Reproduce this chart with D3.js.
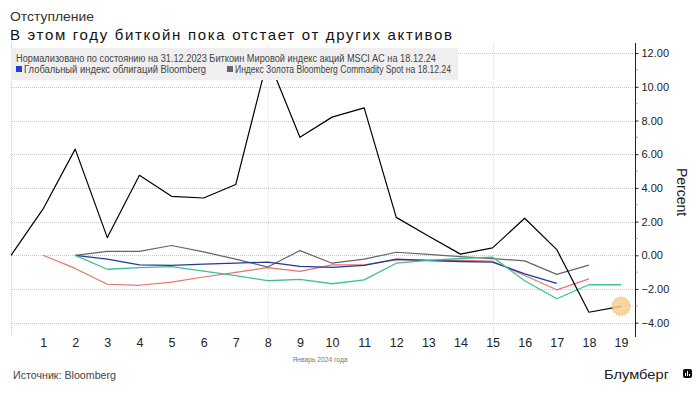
<!DOCTYPE html>
<html>
<head>
<meta charset="utf-8">
<script src="https://cdn.jsdelivr.net/npm/d3@7"></script>
<style>
  body { margin: 0; background: #fff; }
  text { font-family: "Liberation Sans", Arial, sans-serif; }
</style>
</head>
<body>
<script>
// January 2024 trading days, normalised to 31.12.2023 (percent)
var days = d3.range(0, 20),
	dayTicks = d3.range(1, 20),
	yTicks = [-4, -2, 0, 2, 4, 6, 8, 10, 12],
	yMinorTicks = [-3, -1, 1, 3, 5, 7, 9, 11],
	bitcoin = [0, 2.75, 6.3, 1.05, 4.75, 3.5, 3.4, 4.2, 11.7, 7.0, 8.2, 8.75, 2.25, 1.15, 0.07, 0.44, 2.2, 0.34, -3.38, -3.03],
	msciStart = 1,
	msciWorld = [0, -0.78, -1.72, -1.78, -1.59, -1.29, -1.01, -0.73, -0.95, -0.57, -0.57, -0.27, -0.3, -0.3, -0.35, -1.2, -2.05, -1.4],
	bondsStart = 2,
	bondsGlobal = [0, -0.23, -0.57, -0.6, -0.52, -0.47, -0.4, -0.66, -0.72, -0.6, -0.23, -0.31, -0.37, -0.4, -1.1, -1.66],
	goldStart = 2,
	goldIndex = [0, 0.23, 0.23, 0.58, 0.2, -0.23, -0.7, 0.28, -0.47, -0.23, 0.18, 0.05, -0.08, -0.2, -0.33, -1.13, -0.58],
	commodStart = 2,
	commoditySpot = [0, -0.83, -0.73, -0.67, -0.94, -1.21, -1.51, -1.43, -1.69, -1.46, -0.47, -0.3, -0.19, -0.11, -1.51, -2.58, -1.75, -1.75],
	weekLines = [8, 15],
	highlightDay = 19;

var width = 699,
	height = 398,
	axisX = 635,
	xScale = d3.scaleLinear().domain([0, 19]).range([11, 621]),
	yScale = d3.scaleLinear().domain([-4.85, 12.6]).range([337, 43]);

var svg = d3.select("body").append("svg")
	.attr("width", width)
	.attr("height", height);

// titles
svg.append("text")
	.attr("x", 10).attr("y", 21)
	.attr("font-size", 13).attr("fill", "#333")
	.attr("textLength", 84).attr("lengthAdjust", "spacingAndGlyphs")
	.text("Отступление");
svg.append("text")
	.attr("x", 10).attr("y", 40)
	.attr("font-size", 15).attr("fill", "#111")
	.attr("textLength", 442).attr("lengthAdjust", "spacing")
	.text("В этом году биткойн пока отстает от других активов");

// grid
var grid = svg.append("g");
grid.selectAll("line.h")
	.data(yTicks)
	.enter().append("line")
	.attr("x1", 12).attr("x2", axisX)
	.attr("y1", function(d) { return Math.round(yScale(d)) + 0.5; })
	.attr("y2", function(d) { return Math.round(yScale(d)) + 0.5; })
	.attr("stroke", "#c8c8c8").attr("stroke-dasharray", "1,1");
grid.selectAll("line.v")
	.data([0].concat(weekLines))
	.enter().append("line")
	.attr("x1", function(d) { return Math.round(xScale(d)) + 0.5; })
	.attr("x2", function(d) { return Math.round(xScale(d)) + 0.5; })
	.attr("y1", 43).attr("y2", 337)
	.attr("stroke", function(d) { return d == 0 ? "#c8c8c8" : "#e2e2e2"; })
	.attr("stroke-dasharray", "1,1");

// lines
function drawSeries(values, start, color, w) {
	var line = d3.line()
		.x(function(d, i) { return xScale(start + i); })
		.y(function(d) { return yScale(d); });
	svg.append("path")
		.datum(values)
		.attr("d", line)
		.attr("fill", "none")
		.attr("stroke", color)
		.attr("stroke-width", w)
		.attr("stroke-linejoin", "round");
}
drawSeries(msciWorld, msciStart, "#e5746c", 1.2);
drawSeries(goldIndex, goldStart, "#666666", 1.2);
drawSeries(bondsGlobal, bondsStart, "#1f3a9e", 1.3);
drawSeries(commoditySpot, commodStart, "#3dbf9c", 1.3);
drawSeries(bitcoin, 0, "#000000", 1.2);

// legend box (sits over the plot)
svg.append("rect")
	.attr("x", 11).attr("y", 48)
	.attr("width", 447).attr("height", 32)
	.attr("fill", "#efefef");
svg.append("text")
	.attr("x", 16).attr("y", 62)
	.attr("font-size", 10).attr("fill", "#444")
	.attr("textLength", 420).attr("lengthAdjust", "spacingAndGlyphs")
	.text("Нормализовано по состоянию на 31.12.2023 Биткоин Мировой индекс акций MSCI AC на 18.12.24");
svg.append("rect")
	.attr("x", 16).attr("y", 66).attr("width", 6).attr("height", 6)
	.attr("fill", "#1c3ee0");
svg.append("text")
	.attr("x", 24).attr("y", 73)
	.attr("font-size", 10).attr("fill", "#444")
	.attr("textLength", 182).attr("lengthAdjust", "spacingAndGlyphs")
	.text("Глобальный индекс облигаций Bloomberg");
svg.append("rect")
	.attr("x", 227).attr("y", 66).attr("width", 6).attr("height", 6)
	.attr("fill", "#666");
svg.append("text")
	.attr("x", 235).attr("y", 73)
	.attr("font-size", 10).attr("fill", "#444")
	.attr("textLength", 216).attr("lengthAdjust", "spacingAndGlyphs")
	.text("Индекс Золота Bloomberg Commadity Spot на 18.12.24");

// highlight on last bitcoin point
svg.append("circle")
	.attr("cx", xScale(highlightDay))
	.attr("cy", yScale(bitcoin[highlightDay]))
	.attr("r", 9)
	.attr("fill", "#f8cf8c").attr("fill-opacity", 0.85)
	.attr("stroke", "#eda848").attr("stroke-dasharray", "1.5,1.5");

// right axis
var yAxis = d3.axisRight(yScale)
	.tickValues(yTicks)
	.tickSize(3)
	.tickPadding(3)
	.tickFormat(d3.format(".2f"));
var ya = svg.append("g")
	.attr("transform", "translate(" + (axisX + 0.5) + ",0)")
	.call(yAxis);
ya.select(".domain").attr("stroke", "#222").attr("d", "M0,43V337");
ya.selectAll("text")
	.attr("font-family", "DejaVu Sans, Verdana, sans-serif")
	.attr("font-size", 11).attr("fill", "#222");
ya.selectAll(".tick line").attr("stroke", "#222");
ya.selectAll("line.minor")
	.data(yMinorTicks)
	.enter().append("line")
	.attr("class", "minor")
	.attr("x1", 0).attr("x2", 2)
	.attr("y1", function(d) { return yScale(d); })
	.attr("y2", function(d) { return yScale(d); })
	.attr("stroke", "#888");

svg.append("text")
	.attr("transform", "translate(677,192) rotate(90)")
	.attr("text-anchor", "middle")
	.attr("font-family", "DejaVu Sans, Verdana, sans-serif")
	.attr("font-size", 14).attr("fill", "#222")
	.text("Percent");

// x axis labels (no axis line)
var xAxis = d3.axisBottom(xScale)
	.tickValues(dayTicks)
	.tickSize(0)
	.tickPadding(0)
	.tickFormat(d3.format("d"));
var xa = svg.append("g")
	.attr("transform", "translate(0,338)")
	.call(xAxis);
xa.select(".domain").remove();
xa.selectAll("text")
	.attr("font-family", "DejaVu Sans, Verdana, sans-serif")
	.attr("font-size", 12.5).attr("fill", "#222");

svg.append("text")
	.attr("x", 320).attr("y", 362)
	.attr("text-anchor", "middle")
	.attr("font-size", 8).attr("fill", "#777")
	.attr("textLength", 55).attr("lengthAdjust", "spacingAndGlyphs")
	.text("Январь 2024 года");

// footer
svg.append("text")
	.attr("x", 13).attr("y", 379)
	.attr("font-size", 10.5).attr("fill", "#444")
	.attr("textLength", 103).attr("lengthAdjust", "spacingAndGlyphs")
	.text("Источник: Bloomberg");
svg.append("text")
	.attr("x", 604).attr("y", 379)
	.attr("font-size", 13).attr("fill", "#222")
	.attr("textLength", 65).attr("lengthAdjust", "spacingAndGlyphs")
	.text("Блумберг");
var logo = svg.append("g").attr("transform", "translate(683,369)");
logo.append("rect")
	.attr("width", 9).attr("height", 9).attr("rx", 2)
	.attr("fill", "#111");
logo.selectAll("rect.bar")
	.data([[2, 4, 3], [4, 2, 5], [6, 5, 2]])
	.enter().append("rect")
	.attr("class", "bar")
	.attr("x", function(d) { return d[0]; })
	.attr("y", function(d) { return d[1]; })
	.attr("width", 1)
	.attr("height", function(d) { return d[2]; })
	.attr("fill", "#fff");
</script>
</body>
</html>
